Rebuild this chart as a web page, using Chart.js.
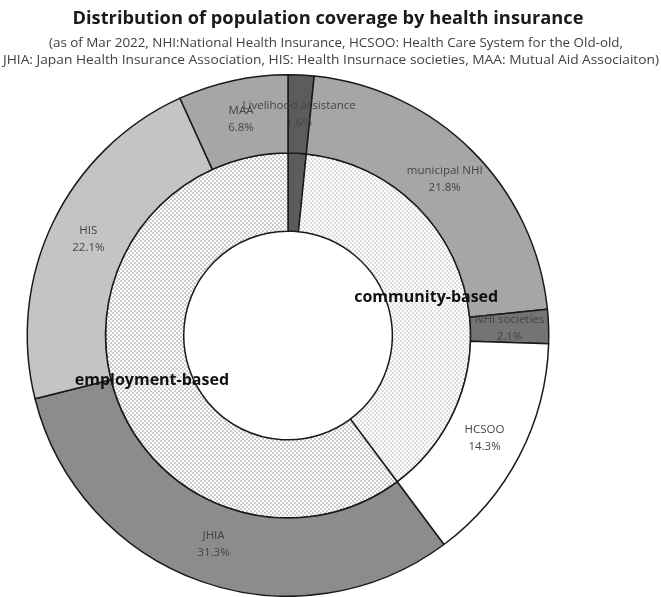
<!DOCTYPE html>
<html>
<head>
<meta charset="utf-8">
<script src="https://cdn.jsdelivr.net/npm/chart.js@4.4.1/dist/chart.umd.min.js"></script>
<style>
  html, body { margin: 0; padding: 0; background: #ffffff; }
  canvas { display: block; }
</style>
</head>
<body>
<canvas id="c" width="661" height="597"></canvas>
<script>
// Outer ring: individual insurance schemes (% of population)
const outerLabels = ['Livelihood assistance', 'municipal NHI', 'NHI societies', 'HCSOO', 'JHIA', 'HIS', 'MAA'];
const outerValues = [1.6, 21.8, 2.1, 14.3, 31.3, 22.1, 6.8];

// Inner ring: scheme groups (livelihood assistance stands alone)
const innerLabels = ['', 'community-based', 'employment-based'];
const innerValues = [1.6, 38.2, 60.2];

const titleText = 'Distribution of population coverage by health insurance';
const subtitleLines = [
  '(as of Mar 2022, NHI:National Health Insurance, HCSOO: Health Care System for the Old-old,',
  'JHIA: Japan Health Insurance Association, HIS: Health Insurnace societies, MAA: Mutual Aid Associaiton)'
];

const outerColors = ['#5c5c5c', '#a6a6a6', '#747474', '#ffffff', '#8c8c8c', '#c4c4c4', '#a6a6a6'];

// Dotted fill used for the group ring
function dotPattern(dot) {
  const tile = document.createElement('canvas');
  tile.width = 4; tile.height = 4;
  const g = tile.getContext('2d');
  g.fillStyle = '#ffffff';
  g.fillRect(0, 0, 4, 4);
  g.fillStyle = dot;
  g.fillRect(0, 0, 2, 2);
  g.fillRect(2, 2, 2, 2);
  return g.createPattern(tile, 'repeat');
}
const innerColors = ['#5c5c5c', dotPattern('#dedede'), dotPattern('#cccccc')];

// Draws text squeezed/stretched horizontally to a given width
function fitText(ctx, text, cx, cy, width) {
  const w = ctx.measureText(text).width;
  ctx.save();
  ctx.translate(cx, cy);
  ctx.scale(width / w, 1);
  ctx.fillText(text, 0, 0);
  ctx.restore();
}

const headerPlugin = {
  id: 'header',
  afterDraw(chart) {
    const ctx = chart.ctx;
    ctx.save();
    ctx.textAlign = 'center';
    ctx.textBaseline = 'middle';
    ctx.fillStyle = '#1a1a1a';
    ctx.font = 'bold 18px "Open Sans"';
    fitText(ctx, titleText, 328, 19, 511);
    ctx.fillStyle = '#404040';
    ctx.font = '12px "Open Sans"';
    fitText(ctx, subtitleLines[0], 336, 44, 574);
    fitText(ctx, subtitleLines[1], 331, 61, 656);
    ctx.restore();
  }
};

const ringLabels = {
  id: 'ringLabels',
  afterDatasetsDraw(chart) {
    const ctx = chart.ctx;
    ctx.save();
    ctx.textAlign = 'center';
    ctx.textBaseline = 'middle';
    chart.getDatasetMeta(0).data.forEach((arc, i) => {
      const p = arc.tooltipPosition();
      ctx.font = '11.5px "Open Sans"';
      ctx.fillStyle = '#454545';
      ctx.fillText(outerLabels[i], p.x, p.y - 8.5);
      ctx.fillText(outerValues[i].toFixed(1) + '%', p.x, p.y + 8.5);
    });
    chart.getDatasetMeta(1).data.forEach((arc, i) => {
      if (!innerLabels[i]) return;
      const p = arc.tooltipPosition();
      ctx.font = 'bold 16px "Open Sans"';
      ctx.fillStyle = '#111111';
      ctx.fillText(innerLabels[i], p.x, p.y);
    });
    ctx.restore();
  }
};

new Chart(document.getElementById('c'), {
  type: 'doughnut',
  data: {
    labels: outerLabels,
    datasets: [
      {
        data: outerValues,
        backgroundColor: outerColors,
        borderColor: '#1a1a1a',
        borderWidth: 1.5
      },
      {
        data: innerValues,
        backgroundColor: innerColors,
        borderColor: '#1a1a1a',
        borderWidth: 1.5
      }
    ]
  },
  options: {
    responsive: false,
    devicePixelRatio: 1,
    animation: false,
    cutout: '40%',
    rotation: 0,
    layout: { padding: { top: 74, left: 26, right: 111, bottom: 0 } },
    plugins: {
      legend: { display: false },
      tooltip: { enabled: false }
    }
  },
  plugins: [ringLabels, headerPlugin]
});
</script>
</body>
</html>
